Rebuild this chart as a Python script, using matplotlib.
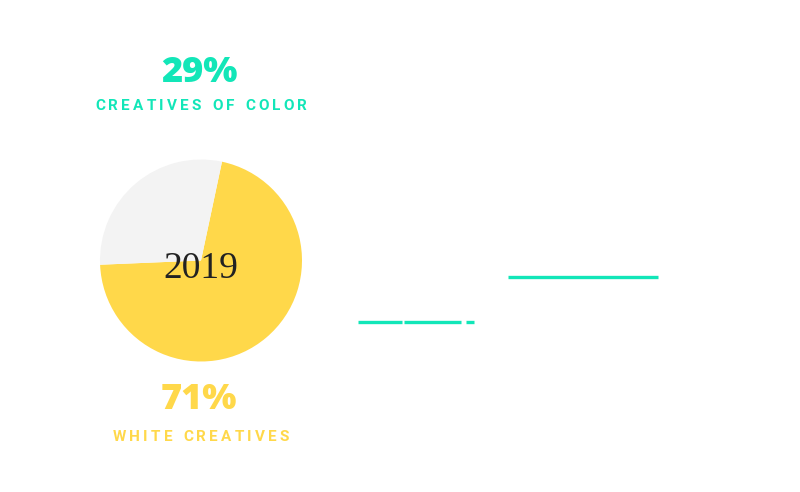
import matplotlib
matplotlib.use("Agg")
import matplotlib.pyplot as plt

# ---- data ----
pie_labels = ["White creatives", "Creatives of color"]
pie_values = [71, 29]
pie_colors = ["#FFD84A", "#F3F3F3"]
year_label = "2019"
top_pct = "29%"
top_text = "CREATIVES OF COLOR"
bottom_pct = "71%"
bottom_text = "WHITE CREATIVES"
# teal line segments (pixel space: x0, x1, y)
line_x0 = [508, 358, 404, 466]
line_x1 = [658, 402, 461, 474]
line_y = [277, 322, 322, 322]

TEAL = "#12E6B8"
YELLOW = "#FFD84A"

W, H = 800, 492
fig = plt.figure(figsize=(W / 100, H / 100), dpi=100)
ax = fig.add_axes([0, 0, 1, 1])
ax.set_xlim(0, W)
ax.set_ylim(H, 0)
ax.axis("off")

# pie on its own axes
cx, cy, r = 201, 260.5, 101
pax = fig.add_axes([(cx - r) / W, 1 - (cy + r) / H, 2 * r / W, 2 * r / H])
pax.pie(pie_values, colors=pie_colors, startangle=78, counterclock=False,
        wedgeprops=dict(linewidth=0))
pax.set_aspect("equal")
pax.set_xlim(-1, 1)
pax.set_ylim(-1, 1)
pax.axis("off")

pax.text(0, -0.085, year_label, ha="center", va="center", fontsize=27,
         family="Liberation Serif", color="#222222")

renderer = fig.canvas.get_renderer()


def tracked(x_center, y, s, size, color, weight, tracking, family="Roboto"):
    # draw string with extra letter spacing (px), centered
    widths = []
    for ch in s:
        if ch == " ":
            t = ax.text(0, 0, "a", fontsize=size, family=family, weight=weight)
            w = t.get_window_extent(renderer).width * 0.55
        else:
            t = ax.text(0, 0, ch, fontsize=size, family=family, weight=weight)
            w = t.get_window_extent(renderer).width
        t.remove()
        widths.append(w)
    total = sum(widths) + tracking * (len(s) - 1)
    x = x_center - total / 2
    for ch, w in zip(s, widths):
        if ch != " ":
            ax.text(x, y, ch, fontsize=size, family=family, weight=weight,
                    color=color, ha="left", va="center_baseline")
        x += w + tracking


ax.text(199, 82, top_pct, ha="center", va="baseline", fontsize=26,
        family="Open Sans", weight=800, color=TEAL)
tracked(201, 104.5, top_text, 11, TEAL, "bold", 3.2)

ax.text(199, 409, bottom_pct, ha="center", va="baseline", fontsize=26,
        family="Open Sans", weight=800, color=YELLOW)
tracked(201, 435.5, bottom_text, 11, YELLOW, "bold", 3.2)

for x0, x1, y in zip(line_x0, line_x1, line_y):
    ax.plot([x0, x1], [y, y], color=TEAL, linewidth=2.4, solid_capstyle="butt")

fig.savefig("out.png", dpi=100, facecolor="white")
